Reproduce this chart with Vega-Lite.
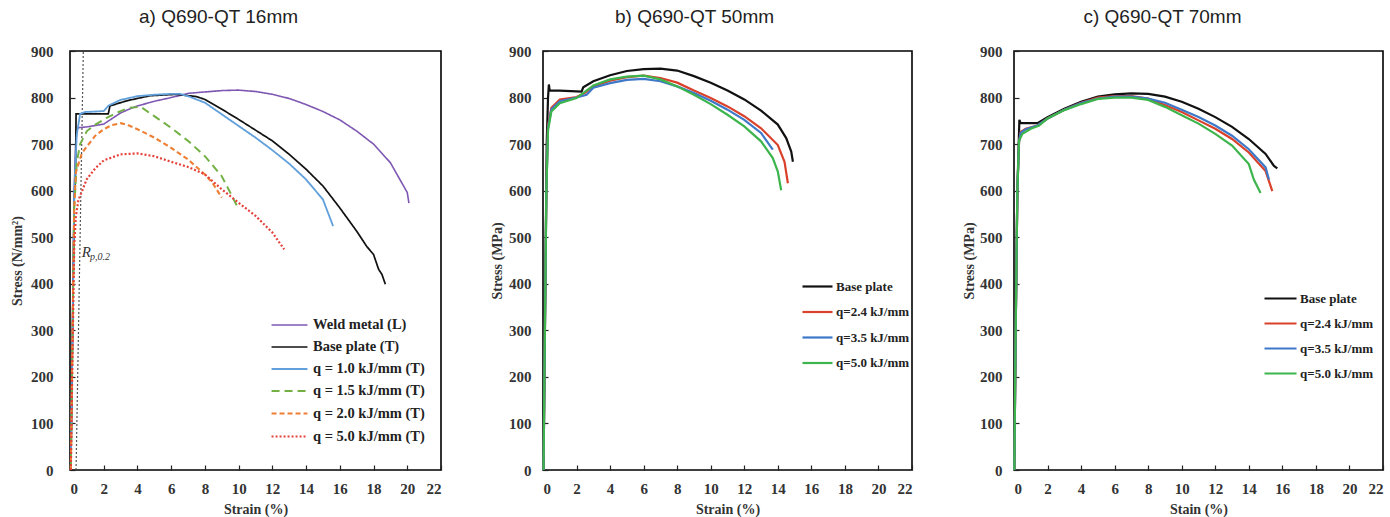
{
  "$schema": "https://vega.github.io/schema/vega-lite/v6.json",
  "background": "white",
  "padding": {"left": 9, "top": 7, "right": 0, "bottom": 0},
  "spacing": 102,
  "bounds": "flush",
  "config": {
    "view": {"stroke": "black", "strokeWidth": 1.6},
    "axis": {
      "grid": false, "domain": false, "tickColor": "#222", "tickSize": -5, "tickWidth": 1.2, "labelOverlap": false,
      "labelFont": "Liberation Serif", "labelFontWeight": "bold", "labelFontSize": 15, "labelColor": "#333",
      "titleFont": "Liberation Serif", "titleFontWeight": "bold", "titleFontSize": 14, "titleColor": "#333"
    },
    "axisX": {"labelPadding": 16, "titlePadding": 6},
    "axisY": {"labelPadding": 17, "titlePadding": 4},
    "title": {"font": "Liberation Sans", "fontSize": 19, "fontWeight": "normal", "color": "#222", "offset": 17, "frame": "group"},
    "legend": {
      "orient": "none", "title": null, "symbolType": "stroke", "symbolStrokeWidth": 2.2,
      "labelFont": "Liberation Serif", "labelFontWeight": "bold", "labelColor": "#222", "labelOffset": 2
    },
    "line": {"strokeCap": "butt"}
  },
  "resolve": {
    "scale": {"color": "independent", "strokeDash": "independent", "strokeWidth": "independent"},
    "legend": {"color": "independent", "strokeDash": "independent", "strokeWidth": "independent"}
  },
  "datasets": {
    "rp": [{"strain": 0.36, "stress": 0}, {"strain": 0.79, "stress": 900}],
    "rR": [{"strain": 0.7, "stress": 468, "label": "R"}],
    "rSub": [{"strain": 1.18, "stress": 458, "label": "p,0.2"}],
    "a": [
      {"series": "Weld metal (L)", "strain": 0.05, "stress": 0},
      {"series": "Weld metal (L)", "strain": 0.15, "stress": 300},
      {"series": "Weld metal (L)", "strain": 0.25, "stress": 600},
      {"series": "Weld metal (L)", "strain": 0.35, "stress": 710},
      {"series": "Weld metal (L)", "strain": 0.45, "stress": 735},
      {"series": "Weld metal (L)", "strain": 1.0, "stress": 737},
      {"series": "Weld metal (L)", "strain": 1.5, "stress": 740},
      {"series": "Weld metal (L)", "strain": 2.0, "stress": 743},
      {"series": "Weld metal (L)", "strain": 2.5, "stress": 755},
      {"series": "Weld metal (L)", "strain": 3.0, "stress": 767},
      {"series": "Weld metal (L)", "strain": 3.5, "stress": 775},
      {"series": "Weld metal (L)", "strain": 4.0, "stress": 782},
      {"series": "Weld metal (L)", "strain": 5.0, "stress": 792},
      {"series": "Weld metal (L)", "strain": 6.0, "stress": 800},
      {"series": "Weld metal (L)", "strain": 7.0, "stress": 809},
      {"series": "Weld metal (L)", "strain": 8.0, "stress": 812},
      {"series": "Weld metal (L)", "strain": 9.0, "stress": 815},
      {"series": "Weld metal (L)", "strain": 10.0, "stress": 816},
      {"series": "Weld metal (L)", "strain": 11.0, "stress": 813},
      {"series": "Weld metal (L)", "strain": 12.0, "stress": 807},
      {"series": "Weld metal (L)", "strain": 13.0, "stress": 798},
      {"series": "Weld metal (L)", "strain": 14.0, "stress": 785},
      {"series": "Weld metal (L)", "strain": 15.0, "stress": 770},
      {"series": "Weld metal (L)", "strain": 16.0, "stress": 752},
      {"series": "Weld metal (L)", "strain": 17.0, "stress": 728},
      {"series": "Weld metal (L)", "strain": 18.0, "stress": 700},
      {"series": "Weld metal (L)", "strain": 19.0, "stress": 660},
      {"series": "Weld metal (L)", "strain": 19.5, "stress": 628},
      {"series": "Weld metal (L)", "strain": 20.0, "stress": 596},
      {"series": "Weld metal (L)", "strain": 20.1, "stress": 573},
      {"series": "Base plate (T)", "strain": 0.05, "stress": 0},
      {"series": "Base plate (T)", "strain": 0.15, "stress": 300},
      {"series": "Base plate (T)", "strain": 0.25, "stress": 580},
      {"series": "Base plate (T)", "strain": 0.33, "stress": 640},
      {"series": "Base plate (T)", "strain": 0.36, "stress": 765},
      {"series": "Base plate (T)", "strain": 2.27, "stress": 765},
      {"series": "Base plate (T)", "strain": 2.37, "stress": 782},
      {"series": "Base plate (T)", "strain": 3.36, "stress": 793},
      {"series": "Base plate (T)", "strain": 4.75, "stress": 804},
      {"series": "Base plate (T)", "strain": 6.33, "stress": 807},
      {"series": "Base plate (T)", "strain": 7.5, "stress": 802},
      {"series": "Base plate (T)", "strain": 8.0, "stress": 796},
      {"series": "Base plate (T)", "strain": 9.0, "stress": 775},
      {"series": "Base plate (T)", "strain": 10.0, "stress": 753},
      {"series": "Base plate (T)", "strain": 11.0, "stress": 730},
      {"series": "Base plate (T)", "strain": 12.0, "stress": 707},
      {"series": "Base plate (T)", "strain": 13.0, "stress": 678},
      {"series": "Base plate (T)", "strain": 14.0, "stress": 646},
      {"series": "Base plate (T)", "strain": 15.0, "stress": 610},
      {"series": "Base plate (T)", "strain": 16.0, "stress": 563},
      {"series": "Base plate (T)", "strain": 17.0, "stress": 513},
      {"series": "Base plate (T)", "strain": 17.6, "stress": 480},
      {"series": "Base plate (T)", "strain": 18.0, "stress": 463},
      {"series": "Base plate (T)", "strain": 18.3, "stress": 431},
      {"series": "Base plate (T)", "strain": 18.5, "stress": 420},
      {"series": "Base plate (T)", "strain": 18.7, "stress": 399},
      {"series": "q = 1.0 kJ/mm (T)", "strain": 0.05, "stress": 0},
      {"series": "q = 1.0 kJ/mm (T)", "strain": 0.15, "stress": 300},
      {"series": "q = 1.0 kJ/mm (T)", "strain": 0.25, "stress": 600},
      {"series": "q = 1.0 kJ/mm (T)", "strain": 0.4, "stress": 720},
      {"series": "q = 1.0 kJ/mm (T)", "strain": 0.6, "stress": 765},
      {"series": "q = 1.0 kJ/mm (T)", "strain": 0.9, "stress": 769},
      {"series": "q = 1.0 kJ/mm (T)", "strain": 1.5, "stress": 770},
      {"series": "q = 1.0 kJ/mm (T)", "strain": 2.0, "stress": 771},
      {"series": "q = 1.0 kJ/mm (T)", "strain": 2.3, "stress": 783},
      {"series": "q = 1.0 kJ/mm (T)", "strain": 3.0, "stress": 795},
      {"series": "q = 1.0 kJ/mm (T)", "strain": 4.0, "stress": 803},
      {"series": "q = 1.0 kJ/mm (T)", "strain": 5.0, "stress": 806},
      {"series": "q = 1.0 kJ/mm (T)", "strain": 6.0, "stress": 808},
      {"series": "q = 1.0 kJ/mm (T)", "strain": 6.5, "stress": 808},
      {"series": "q = 1.0 kJ/mm (T)", "strain": 7.0, "stress": 803},
      {"series": "q = 1.0 kJ/mm (T)", "strain": 8.0, "stress": 789},
      {"series": "q = 1.0 kJ/mm (T)", "strain": 9.0, "stress": 764},
      {"series": "q = 1.0 kJ/mm (T)", "strain": 10.0, "stress": 739},
      {"series": "q = 1.0 kJ/mm (T)", "strain": 11.0, "stress": 714},
      {"series": "q = 1.0 kJ/mm (T)", "strain": 12.0, "stress": 687},
      {"series": "q = 1.0 kJ/mm (T)", "strain": 13.0, "stress": 658},
      {"series": "q = 1.0 kJ/mm (T)", "strain": 14.0, "stress": 624},
      {"series": "q = 1.0 kJ/mm (T)", "strain": 15.0, "stress": 581},
      {"series": "q = 1.0 kJ/mm (T)", "strain": 15.6, "stress": 524},
      {"series": "q = 1.5 kJ/mm (T)", "strain": 0.05, "stress": 0},
      {"series": "q = 1.5 kJ/mm (T)", "strain": 0.15, "stress": 280},
      {"series": "q = 1.5 kJ/mm (T)", "strain": 0.25, "stress": 560},
      {"series": "q = 1.5 kJ/mm (T)", "strain": 0.4, "stress": 660},
      {"series": "q = 1.5 kJ/mm (T)", "strain": 0.6, "stress": 700},
      {"series": "q = 1.5 kJ/mm (T)", "strain": 1.0, "stress": 728},
      {"series": "q = 1.5 kJ/mm (T)", "strain": 1.5, "stress": 742},
      {"series": "q = 1.5 kJ/mm (T)", "strain": 2.2, "stress": 757},
      {"series": "q = 1.5 kJ/mm (T)", "strain": 3.0, "stress": 771},
      {"series": "q = 1.5 kJ/mm (T)", "strain": 3.5, "stress": 778},
      {"series": "q = 1.5 kJ/mm (T)", "strain": 4.2, "stress": 780},
      {"series": "q = 1.5 kJ/mm (T)", "strain": 5.0, "stress": 760},
      {"series": "q = 1.5 kJ/mm (T)", "strain": 6.0, "stress": 735},
      {"series": "q = 1.5 kJ/mm (T)", "strain": 7.0, "stress": 707},
      {"series": "q = 1.5 kJ/mm (T)", "strain": 8.0, "stress": 674},
      {"series": "q = 1.5 kJ/mm (T)", "strain": 9.0, "stress": 631},
      {"series": "q = 1.5 kJ/mm (T)", "strain": 9.5, "stress": 596},
      {"series": "q = 1.5 kJ/mm (T)", "strain": 10.0, "stress": 560},
      {"series": "q = 2.0 kJ/mm (T)", "strain": 0.05, "stress": 0},
      {"series": "q = 2.0 kJ/mm (T)", "strain": 0.15, "stress": 300},
      {"series": "q = 2.0 kJ/mm (T)", "strain": 0.25, "stress": 560},
      {"series": "q = 2.0 kJ/mm (T)", "strain": 0.35, "stress": 640},
      {"series": "q = 2.0 kJ/mm (T)", "strain": 0.7, "stress": 680},
      {"series": "q = 2.0 kJ/mm (T)", "strain": 1.0, "stress": 695},
      {"series": "q = 2.0 kJ/mm (T)", "strain": 1.5, "stress": 718},
      {"series": "q = 2.0 kJ/mm (T)", "strain": 2.0, "stress": 732},
      {"series": "q = 2.0 kJ/mm (T)", "strain": 2.5, "stress": 741},
      {"series": "q = 2.0 kJ/mm (T)", "strain": 3.0, "stress": 745},
      {"series": "q = 2.0 kJ/mm (T)", "strain": 3.5, "stress": 740},
      {"series": "q = 2.0 kJ/mm (T)", "strain": 4.0, "stress": 732},
      {"series": "q = 2.0 kJ/mm (T)", "strain": 5.0, "stress": 714},
      {"series": "q = 2.0 kJ/mm (T)", "strain": 6.0, "stress": 692},
      {"series": "q = 2.0 kJ/mm (T)", "strain": 7.0, "stress": 667},
      {"series": "q = 2.0 kJ/mm (T)", "strain": 8.0, "stress": 635},
      {"series": "q = 2.0 kJ/mm (T)", "strain": 8.5, "stress": 614},
      {"series": "q = 2.0 kJ/mm (T)", "strain": 9.0, "stress": 585},
      {"series": "q = 5.0 kJ/mm (T)", "strain": 0.05, "stress": 0},
      {"series": "q = 5.0 kJ/mm (T)", "strain": 0.15, "stress": 250},
      {"series": "q = 5.0 kJ/mm (T)", "strain": 0.25, "stress": 480},
      {"series": "q = 5.0 kJ/mm (T)", "strain": 0.35, "stress": 545},
      {"series": "q = 5.0 kJ/mm (T)", "strain": 0.5, "stress": 580},
      {"series": "q = 5.0 kJ/mm (T)", "strain": 1.0, "stress": 625},
      {"series": "q = 5.0 kJ/mm (T)", "strain": 1.5, "stress": 648},
      {"series": "q = 5.0 kJ/mm (T)", "strain": 2.0, "stress": 665},
      {"series": "q = 5.0 kJ/mm (T)", "strain": 3.0, "stress": 678},
      {"series": "q = 5.0 kJ/mm (T)", "strain": 4.0, "stress": 680},
      {"series": "q = 5.0 kJ/mm (T)", "strain": 5.0, "stress": 674},
      {"series": "q = 5.0 kJ/mm (T)", "strain": 6.0, "stress": 662},
      {"series": "q = 5.0 kJ/mm (T)", "strain": 7.0, "stress": 651},
      {"series": "q = 5.0 kJ/mm (T)", "strain": 8.0, "stress": 635},
      {"series": "q = 5.0 kJ/mm (T)", "strain": 9.0, "stress": 603},
      {"series": "q = 5.0 kJ/mm (T)", "strain": 10.0, "stress": 574},
      {"series": "q = 5.0 kJ/mm (T)", "strain": 11.0, "stress": 546},
      {"series": "q = 5.0 kJ/mm (T)", "strain": 12.0, "stress": 510},
      {"series": "q = 5.0 kJ/mm (T)", "strain": 12.7, "stress": 474}
    ],
    "b": [
      {"series": "Base plate", "strain": 0.03, "stress": 0},
      {"series": "Base plate", "strain": 0.1, "stress": 250},
      {"series": "Base plate", "strain": 0.18, "stress": 550},
      {"series": "Base plate", "strain": 0.22, "stress": 700},
      {"series": "Base plate", "strain": 0.3, "stress": 800},
      {"series": "Base plate", "strain": 0.35, "stress": 828},
      {"series": "Base plate", "strain": 0.4, "stress": 815},
      {"series": "Base plate", "strain": 1.0, "stress": 815},
      {"series": "Base plate", "strain": 2.3, "stress": 813},
      {"series": "Base plate", "strain": 2.4, "stress": 822},
      {"series": "Base plate", "strain": 3.0, "stress": 835},
      {"series": "Base plate", "strain": 4.0, "stress": 848},
      {"series": "Base plate", "strain": 5.0, "stress": 857},
      {"series": "Base plate", "strain": 6.0, "stress": 861},
      {"series": "Base plate", "strain": 7.0, "stress": 862},
      {"series": "Base plate", "strain": 8.0, "stress": 858},
      {"series": "Base plate", "strain": 9.0, "stress": 846},
      {"series": "Base plate", "strain": 10.0, "stress": 832},
      {"series": "Base plate", "strain": 11.0, "stress": 815},
      {"series": "Base plate", "strain": 12.0, "stress": 796},
      {"series": "Base plate", "strain": 13.0, "stress": 772},
      {"series": "Base plate", "strain": 14.0, "stress": 742},
      {"series": "Base plate", "strain": 14.5, "stress": 713},
      {"series": "Base plate", "strain": 14.8, "stress": 684},
      {"series": "Base plate", "strain": 14.9, "stress": 662},
      {"series": "q=2.4 kJ/mm", "strain": 0.03, "stress": 0},
      {"series": "q=2.4 kJ/mm", "strain": 0.1, "stress": 250},
      {"series": "q=2.4 kJ/mm", "strain": 0.2, "stress": 600},
      {"series": "q=2.4 kJ/mm", "strain": 0.3, "stress": 740},
      {"series": "q=2.4 kJ/mm", "strain": 0.5, "stress": 778},
      {"series": "q=2.4 kJ/mm", "strain": 1.0, "stress": 796},
      {"series": "q=2.4 kJ/mm", "strain": 2.0, "stress": 801},
      {"series": "q=2.4 kJ/mm", "strain": 2.5, "stress": 810},
      {"series": "q=2.4 kJ/mm", "strain": 3.0, "stress": 824},
      {"series": "q=2.4 kJ/mm", "strain": 4.0, "stress": 836},
      {"series": "q=2.4 kJ/mm", "strain": 5.0, "stress": 844},
      {"series": "q=2.4 kJ/mm", "strain": 6.0, "stress": 847},
      {"series": "q=2.4 kJ/mm", "strain": 7.0, "stress": 842},
      {"series": "q=2.4 kJ/mm", "strain": 8.0, "stress": 832},
      {"series": "q=2.4 kJ/mm", "strain": 9.0, "stress": 815},
      {"series": "q=2.4 kJ/mm", "strain": 10.0, "stress": 799},
      {"series": "q=2.4 kJ/mm", "strain": 11.0, "stress": 781},
      {"series": "q=2.4 kJ/mm", "strain": 12.0, "stress": 760},
      {"series": "q=2.4 kJ/mm", "strain": 13.0, "stress": 734},
      {"series": "q=2.4 kJ/mm", "strain": 14.0, "stress": 698},
      {"series": "q=2.4 kJ/mm", "strain": 14.4, "stress": 662},
      {"series": "q=2.4 kJ/mm", "strain": 14.6, "stress": 616},
      {"series": "q=3.5 kJ/mm", "strain": 0.03, "stress": 0},
      {"series": "q=3.5 kJ/mm", "strain": 0.1, "stress": 250},
      {"series": "q=3.5 kJ/mm", "strain": 0.2, "stress": 600},
      {"series": "q=3.5 kJ/mm", "strain": 0.3, "stress": 735},
      {"series": "q=3.5 kJ/mm", "strain": 0.5, "stress": 775},
      {"series": "q=3.5 kJ/mm", "strain": 1.0, "stress": 792},
      {"series": "q=3.5 kJ/mm", "strain": 2.0, "stress": 800},
      {"series": "q=3.5 kJ/mm", "strain": 2.6, "stress": 806},
      {"series": "q=3.5 kJ/mm", "strain": 3.0, "stress": 821},
      {"series": "q=3.5 kJ/mm", "strain": 4.0, "stress": 831},
      {"series": "q=3.5 kJ/mm", "strain": 5.0, "stress": 838},
      {"series": "q=3.5 kJ/mm", "strain": 6.0, "stress": 840},
      {"series": "q=3.5 kJ/mm", "strain": 7.0, "stress": 835},
      {"series": "q=3.5 kJ/mm", "strain": 8.0, "stress": 824},
      {"series": "q=3.5 kJ/mm", "strain": 9.0, "stress": 810},
      {"series": "q=3.5 kJ/mm", "strain": 10.0, "stress": 793},
      {"series": "q=3.5 kJ/mm", "strain": 11.0, "stress": 774},
      {"series": "q=3.5 kJ/mm", "strain": 12.0, "stress": 752},
      {"series": "q=3.5 kJ/mm", "strain": 13.0, "stress": 724},
      {"series": "q=3.5 kJ/mm", "strain": 13.7, "stress": 688},
      {"series": "q=5.0 kJ/mm", "strain": 0.03, "stress": 0},
      {"series": "q=5.0 kJ/mm", "strain": 0.1, "stress": 250},
      {"series": "q=5.0 kJ/mm", "strain": 0.2, "stress": 600},
      {"series": "q=5.0 kJ/mm", "strain": 0.3, "stress": 730},
      {"series": "q=5.0 kJ/mm", "strain": 0.5, "stress": 770},
      {"series": "q=5.0 kJ/mm", "strain": 1.0, "stress": 788},
      {"series": "q=5.0 kJ/mm", "strain": 2.0, "stress": 799},
      {"series": "q=5.0 kJ/mm", "strain": 3.0, "stress": 826},
      {"series": "q=5.0 kJ/mm", "strain": 4.0, "stress": 839},
      {"series": "q=5.0 kJ/mm", "strain": 5.0, "stress": 845},
      {"series": "q=5.0 kJ/mm", "strain": 6.0, "stress": 847},
      {"series": "q=5.0 kJ/mm", "strain": 7.0, "stress": 839},
      {"series": "q=5.0 kJ/mm", "strain": 8.0, "stress": 824},
      {"series": "q=5.0 kJ/mm", "strain": 9.0, "stress": 806},
      {"series": "q=5.0 kJ/mm", "strain": 10.0, "stress": 786},
      {"series": "q=5.0 kJ/mm", "strain": 11.0, "stress": 763},
      {"series": "q=5.0 kJ/mm", "strain": 12.0, "stress": 738},
      {"series": "q=5.0 kJ/mm", "strain": 13.0, "stress": 706},
      {"series": "q=5.0 kJ/mm", "strain": 13.7, "stress": 670},
      {"series": "q=5.0 kJ/mm", "strain": 14.0, "stress": 641},
      {"series": "q=5.0 kJ/mm", "strain": 14.2, "stress": 601}
    ],
    "c": [
      {"series": "Base plate", "strain": 0.02, "stress": 0},
      {"series": "Base plate", "strain": 0.1, "stress": 300},
      {"series": "Base plate", "strain": 0.2, "stress": 600},
      {"series": "Base plate", "strain": 0.28, "stress": 700},
      {"series": "Base plate", "strain": 0.32, "stress": 752},
      {"series": "Base plate", "strain": 0.4, "stress": 745},
      {"series": "Base plate", "strain": 1.4, "stress": 745},
      {"series": "Base plate", "strain": 2.0, "stress": 758},
      {"series": "Base plate", "strain": 3.0, "stress": 776},
      {"series": "Base plate", "strain": 4.0, "stress": 791},
      {"series": "Base plate", "strain": 5.0, "stress": 802},
      {"series": "Base plate", "strain": 6.0, "stress": 807},
      {"series": "Base plate", "strain": 7.0, "stress": 809},
      {"series": "Base plate", "strain": 8.0, "stress": 808},
      {"series": "Base plate", "strain": 9.0, "stress": 802},
      {"series": "Base plate", "strain": 10.0, "stress": 791},
      {"series": "Base plate", "strain": 11.0, "stress": 776},
      {"series": "Base plate", "strain": 12.0, "stress": 758},
      {"series": "Base plate", "strain": 13.0, "stress": 737},
      {"series": "Base plate", "strain": 14.0, "stress": 711},
      {"series": "Base plate", "strain": 15.0, "stress": 679},
      {"series": "Base plate", "strain": 15.5, "stress": 653},
      {"series": "Base plate", "strain": 15.7, "stress": 648},
      {"series": "q=2.4 kJ/mm", "strain": 0.02, "stress": 0},
      {"series": "q=2.4 kJ/mm", "strain": 0.1, "stress": 300},
      {"series": "q=2.4 kJ/mm", "strain": 0.2, "stress": 600},
      {"series": "q=2.4 kJ/mm", "strain": 0.3, "stress": 705},
      {"series": "q=2.4 kJ/mm", "strain": 0.4, "stress": 726},
      {"series": "q=2.4 kJ/mm", "strain": 0.7, "stress": 733},
      {"series": "q=2.4 kJ/mm", "strain": 1.4, "stress": 740},
      {"series": "q=2.4 kJ/mm", "strain": 2.0, "stress": 755},
      {"series": "q=2.4 kJ/mm", "strain": 3.0, "stress": 774},
      {"series": "q=2.4 kJ/mm", "strain": 4.0, "stress": 789},
      {"series": "q=2.4 kJ/mm", "strain": 5.0, "stress": 800},
      {"series": "q=2.4 kJ/mm", "strain": 6.0, "stress": 803},
      {"series": "q=2.4 kJ/mm", "strain": 7.0, "stress": 803},
      {"series": "q=2.4 kJ/mm", "strain": 8.0, "stress": 798},
      {"series": "q=2.4 kJ/mm", "strain": 9.0, "stress": 784},
      {"series": "q=2.4 kJ/mm", "strain": 10.0, "stress": 769},
      {"series": "q=2.4 kJ/mm", "strain": 11.0, "stress": 751},
      {"series": "q=2.4 kJ/mm", "strain": 12.0, "stress": 733},
      {"series": "q=2.4 kJ/mm", "strain": 13.0, "stress": 711},
      {"series": "q=2.4 kJ/mm", "strain": 14.0, "stress": 682},
      {"series": "q=2.4 kJ/mm", "strain": 15.0, "stress": 642},
      {"series": "q=2.4 kJ/mm", "strain": 15.4, "stress": 599},
      {"series": "q=3.5 kJ/mm", "strain": 0.02, "stress": 0},
      {"series": "q=3.5 kJ/mm", "strain": 0.1, "stress": 300},
      {"series": "q=3.5 kJ/mm", "strain": 0.2, "stress": 600},
      {"series": "q=3.5 kJ/mm", "strain": 0.3, "stress": 705},
      {"series": "q=3.5 kJ/mm", "strain": 0.4, "stress": 724},
      {"series": "q=3.5 kJ/mm", "strain": 0.7, "stress": 732},
      {"series": "q=3.5 kJ/mm", "strain": 1.4, "stress": 740},
      {"series": "q=3.5 kJ/mm", "strain": 2.0, "stress": 755},
      {"series": "q=3.5 kJ/mm", "strain": 3.0, "stress": 774},
      {"series": "q=3.5 kJ/mm", "strain": 4.0, "stress": 788},
      {"series": "q=3.5 kJ/mm", "strain": 5.0, "stress": 798},
      {"series": "q=3.5 kJ/mm", "strain": 6.0, "stress": 802},
      {"series": "q=3.5 kJ/mm", "strain": 7.0, "stress": 802},
      {"series": "q=3.5 kJ/mm", "strain": 8.0, "stress": 798},
      {"series": "q=3.5 kJ/mm", "strain": 9.0, "stress": 789},
      {"series": "q=3.5 kJ/mm", "strain": 10.0, "stress": 774},
      {"series": "q=3.5 kJ/mm", "strain": 11.0, "stress": 758},
      {"series": "q=3.5 kJ/mm", "strain": 12.0, "stress": 740},
      {"series": "q=3.5 kJ/mm", "strain": 13.0, "stress": 718},
      {"series": "q=3.5 kJ/mm", "strain": 14.0, "stress": 689},
      {"series": "q=3.5 kJ/mm", "strain": 15.0, "stress": 650},
      {"series": "q=3.5 kJ/mm", "strain": 15.2, "stress": 624},
      {"series": "q=5.0 kJ/mm", "strain": 0.02, "stress": 0},
      {"series": "q=5.0 kJ/mm", "strain": 0.1, "stress": 300},
      {"series": "q=5.0 kJ/mm", "strain": 0.2, "stress": 600},
      {"series": "q=5.0 kJ/mm", "strain": 0.3, "stress": 707},
      {"series": "q=5.0 kJ/mm", "strain": 0.5, "stress": 722},
      {"series": "q=5.0 kJ/mm", "strain": 1.0, "stress": 733},
      {"series": "q=5.0 kJ/mm", "strain": 1.5, "stress": 740},
      {"series": "q=5.0 kJ/mm", "strain": 2.0, "stress": 755},
      {"series": "q=5.0 kJ/mm", "strain": 3.0, "stress": 773},
      {"series": "q=5.0 kJ/mm", "strain": 4.0, "stress": 786},
      {"series": "q=5.0 kJ/mm", "strain": 5.0, "stress": 797},
      {"series": "q=5.0 kJ/mm", "strain": 6.0, "stress": 800},
      {"series": "q=5.0 kJ/mm", "strain": 7.0, "stress": 800},
      {"series": "q=5.0 kJ/mm", "strain": 8.0, "stress": 795},
      {"series": "q=5.0 kJ/mm", "strain": 9.0, "stress": 780},
      {"series": "q=5.0 kJ/mm", "strain": 10.0, "stress": 762},
      {"series": "q=5.0 kJ/mm", "strain": 11.0, "stress": 744},
      {"series": "q=5.0 kJ/mm", "strain": 12.0, "stress": 722},
      {"series": "q=5.0 kJ/mm", "strain": 13.0, "stress": 697},
      {"series": "q=5.0 kJ/mm", "strain": 14.0, "stress": 657},
      {"series": "q=5.0 kJ/mm", "strain": 14.3, "stress": 624},
      {"series": "q=5.0 kJ/mm", "strain": 14.7, "stress": 595}
    ]
  },
  "hconcat": [
    {
      "width": 371, "height": 419,
      "title": {"text": "a) Q690-QT 16mm", "dx": -37},
      "encoding": {
        "x": {"field": "strain", "type": "quantitative", "title": "Strain (%)",
              "scale": {"domain": [0, 22], "nice": false},
              "axis": {"values": [0, 2, 4, 6, 8, 10, 12, 14, 16, 18, 20, 22]}},
        "y": {"field": "stress", "type": "quantitative", "title": "Stress (N/mm²)",
              "scale": {"domain": [0, 900], "nice": false},
              "axis": {"values": [0, 100, 200, 300, 400, 500, 600, 700, 800, 900], "labelPadding": 22, "titlePadding": 6}}
      },
      "layer": [
        {
          "data": {"name": "rp"},
          "mark": {"type": "line", "color": "#555", "strokeDash": [2, 2], "strokeWidth": 1.2}
        },
        {
          "data": {"name": "a"},
          "mark": {"type": "line"},
          "encoding": {
            "color": {"field": "series", "type": "nominal",
              "scale": {"domain": ["Weld metal (L)", "Base plate (T)", "q = 1.0 kJ/mm (T)", "q = 1.5 kJ/mm (T)", "q = 2.0 kJ/mm (T)", "q = 5.0 kJ/mm (T)"],
                        "range": ["#7E57B2", "#111111", "#62A0DC", "#72B044", "#EE7F33", "#E5403A"]},
              "legend": {"legendX": 204.5, "legendY": 259.5, "symbolType": "M-1.33,0H1.33", "symbolSize": 729, "labelOffset": 8.5, "labelFontSize": 14.5, "rowPadding": 1}},
            "strokeDash": {"field": "series", "type": "nominal",
              "scale": {"domain": ["Weld metal (L)", "Base plate (T)", "q = 1.0 kJ/mm (T)", "q = 1.5 kJ/mm (T)", "q = 2.0 kJ/mm (T)", "q = 5.0 kJ/mm (T)"],
                        "range": [[1, 0], [1, 0], [1, 0], [8, 5], [5, 3], [2, 2]]}},
            "strokeWidth": {"field": "series", "type": "ordinal", "legend": null,
              "scale": {"domain": ["Weld metal (L)", "Base plate (T)", "q = 1.0 kJ/mm (T)", "q = 1.5 kJ/mm (T)", "q = 2.0 kJ/mm (T)", "q = 5.0 kJ/mm (T)"],
                        "range": [1.6, 2.2, 2.2, 2.6, 2.0, 1.6]}}
          }
        },
        {
          "data": {"name": "rR"},
          "mark": {"type": "text", "font": "Liberation Serif", "fontStyle": "italic", "fontSize": 15, "align": "left", "baseline": "middle", "color": "#333"},
          "encoding": {"text": {"field": "label"}}
        },
        {
          "data": {"name": "rSub"},
          "mark": {"type": "text", "font": "Liberation Serif", "fontStyle": "italic", "fontSize": 10, "align": "left", "baseline": "middle", "color": "#333"},
          "encoding": {"text": {"field": "label"}}
        }
      ]
    },
    {
      "width": 369, "height": 419,
      "title": {"text": "b) Q690-QT 50mm", "dx": -33},
      "data": {"name": "b"},
      "mark": {"type": "line", "strokeWidth": 2.2},
      "encoding": {
        "x": {"field": "strain", "type": "quantitative", "title": "Strain (%)",
              "scale": {"domain": [0, 22], "nice": false},
              "axis": {"values": [0, 2, 4, 6, 8, 10, 12, 14, 16, 18, 20, 22]}},
        "y": {"field": "stress", "type": "quantitative", "title": "Stress (MPa)",
              "scale": {"domain": [0, 900], "nice": false},
              "axis": {"values": [0, 100, 200, 300, 400, 500, 600, 700, 800, 900], "labelPadding": 17, "titlePadding": 4}},
        "color": {"field": "series", "type": "nominal",
          "scale": {"domain": ["Base plate", "q=2.4 kJ/mm", "q=3.5 kJ/mm", "q=5.0 kJ/mm"],
                    "range": ["#111111", "#D9412B", "#3E78C8", "#3DB54C"]},
          "legend": {"legendX": 258, "legendY": 219, "symbolSize": 900, "labelFontSize": 13, "rowPadding": 1.5}}
      }
    },
    {
      "width": 369, "height": 419,
      "title": {"text": "c) Q690-QT 70mm", "dx": -36},
      "data": {"name": "c"},
      "mark": {"type": "line", "strokeWidth": 2.2},
      "encoding": {
        "x": {"field": "strain", "type": "quantitative", "title": "Stain (%)",
              "scale": {"domain": [0, 22], "nice": false},
              "axis": {"values": [0, 2, 4, 6, 8, 10, 12, 14, 16, 18, 20, 22]}},
        "y": {"field": "stress", "type": "quantitative", "title": "Stress (MPa)",
              "scale": {"domain": [0, 900], "nice": false},
              "axis": {"values": [0, 100, 200, 300, 400, 500, 600, 700, 800, 900], "labelPadding": 17, "titlePadding": 3}},
        "color": {"field": "series", "type": "nominal",
          "scale": {"domain": ["Base plate", "q=2.4 kJ/mm", "q=3.5 kJ/mm", "q=5.0 kJ/mm"],
                    "range": ["#111111", "#D9412B", "#3E78C8", "#3DB54C"]},
          "legend": {"legendX": 249, "legendY": 230, "symbolSize": 1024, "labelFontSize": 13, "rowPadding": 0}}
      }
    }
  ]
}
